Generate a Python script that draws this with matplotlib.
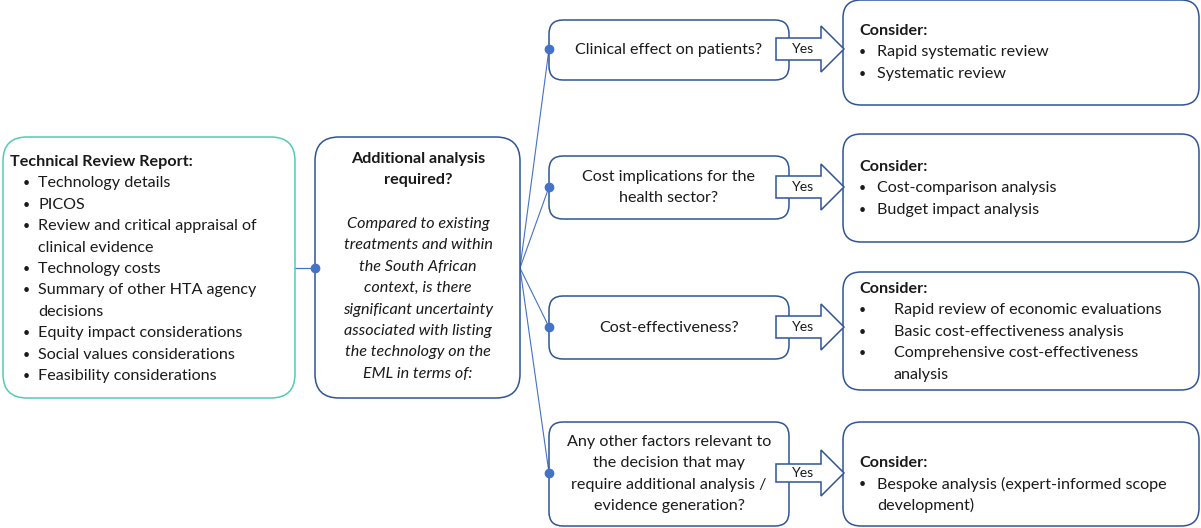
import matplotlib.pyplot as plt
from matplotlib.patches import FancyBboxPatch, Polygon

plt.rcParams['font.family'] = ['Lato', 'DejaVu Sans']

report_title = 'Technical Review Report:'
report_items = ['Technology details', 'PICOS',
                'Review and critical appraisal of\nclinical evidence',
                'Technology costs', 'Summary of other HTA agency\ndecisions',
                'Equity impact considerations', 'Social values considerations',
                'Feasibility considerations']

mid_title = ['Additional analysis', 'required?']
mid_body = ['Compared to existing', 'treatments and within', 'the South African',
            'context, is there', 'significant uncertainty', 'associated with listing',
            'the technology on the', 'EML in terms of:']

questions = ['Clinical effect on patients?',
             'Cost implications for the\nhealth sector?',
             'Cost-effectiveness?',
             'Any other factors relevant to\nthe decision that may\nrequire additional analysis /\nevidence generation?']

consider = [['Rapid systematic review', 'Systematic review'],
            ['Cost-comparison analysis', 'Budget impact analysis'],
            ['Rapid review of economic evaluations', 'Basic cost-effectiveness analysis',
             'Comprehensive cost-effectiveness\nanalysis'],
            ['Bespoke analysis (expert-informed scope\ndevelopment)']]

# layout (pixels)
q_boxes = [(20, 80), (156, 219), (296, 359), (422, 526)]
c_boxes = [(0, 105), (134, 242), (272, 390), (422, 526)]
q_mid = [49, 187, 327, 473]
c_first = [31, 167, 289, 463]
c_indent = [18, 18, 35, 18]

blue = '#2f5597'
light = '#4472c4'
teal = '#52cbb6'
ink = '#1a1a1a'
fs = 11.6
bfs = 9
step = 21.4

fig = plt.figure(figsize=(12.01, 5.28), dpi=100)
ax = fig.add_axes([0, 0, 1, 1])
ax.set_xlim(0, 1201)
ax.set_ylim(528, 0)
ax.axis('off')


def rbox(x0, y0, x1, y1, ec, r, z=2):
    ax.add_patch(FancyBboxPatch((x0, y0), x1 - x0, y1 - y0,
                                boxstyle=f'round,pad=0,rounding_size={r}',
                                fc='white', ec=ec, lw=1.1, zorder=z))


# left box
rbox(3, 137, 295, 398, teal, 24)
ax.text(10, 162, report_title, fontsize=fs, fontweight='bold', va='center',
        color=ink, zorder=5)
y = 162 + step
for item in report_items:
    ax.text(23, y, '•', fontsize=bfs, va='center', color=ink, zorder=5)
    for ln in item.split('\n'):
        ax.text(38, y, ln, fontsize=fs, va='center', color=ink, zorder=5)
        y += step

# middle box
rbox(315, 137, 520, 398, blue, 24)
for i, ln in enumerate(mid_title):
    ax.text(418, 159 + i * step, ln, fontsize=fs, fontweight='bold',
            ha='center', va='center', color=ink, zorder=5)
for i, ln in enumerate(mid_body):
    ax.text(418, 224 + i * step, ln, fontsize=fs, style='italic',
            ha='center', va='center', color=ink, zorder=5)

# connectors
ax.plot([295, 315], [268, 268], color=light, lw=0.9, zorder=1)
ax.plot(315, 268, 'o', color=light, ms=6, zorder=6)
for ym in q_mid:
    ax.plot([520, 549], [268, ym], color=light, lw=0.8, zorder=1)
    ax.plot(549, ym, 'o', color=light, ms=6, zorder=6)

for k in range(4):
    y0, y1 = q_boxes[k]
    rbox(549, y0, 789, y1, blue, 14)
    lines = questions[k].split('\n')
    yc = (y0 + y1) / 2 - (len(lines) - 1) * step / 2
    for i, ln in enumerate(lines):
        ax.text(669, yc + i * step, ln, fontsize=fs, ha='center',
                va='center', color=ink, zorder=5)
    ym = q_mid[k]
    s = 11 if k < 3 else 9
    pts = [(776, ym - s), (821, ym - s), (821, ym - 23), (844, ym),
           (821, ym + 23), (821, ym + s), (776, ym + s)]
    ax.add_patch(Polygon(pts, closed=True, fc='white', ec=blue, lw=1.1, zorder=4))
    ax.text(803, ym, 'Yes', fontsize=fs - 1.5, ha='center', va='center',
            color=ink, zorder=5)
    cy0, cy1 = c_boxes[k]
    rbox(843, cy0, 1199, cy1, blue, 18)
    ax.text(859, c_first[k], 'Consider:', fontsize=fs, fontweight='bold',
            va='center', color=ink, zorder=5)
    y = c_first[k] + step
    for item in consider[k]:
        ax.text(859, y, '•', fontsize=bfs, va='center', color=ink, zorder=5)
        for ln in item.split('\n'):
            ax.text(859 + c_indent[k], y, ln, fontsize=fs, va='center',
                    color=ink, zorder=5)
            y += step

fig.savefig('out.png', dpi=100)
